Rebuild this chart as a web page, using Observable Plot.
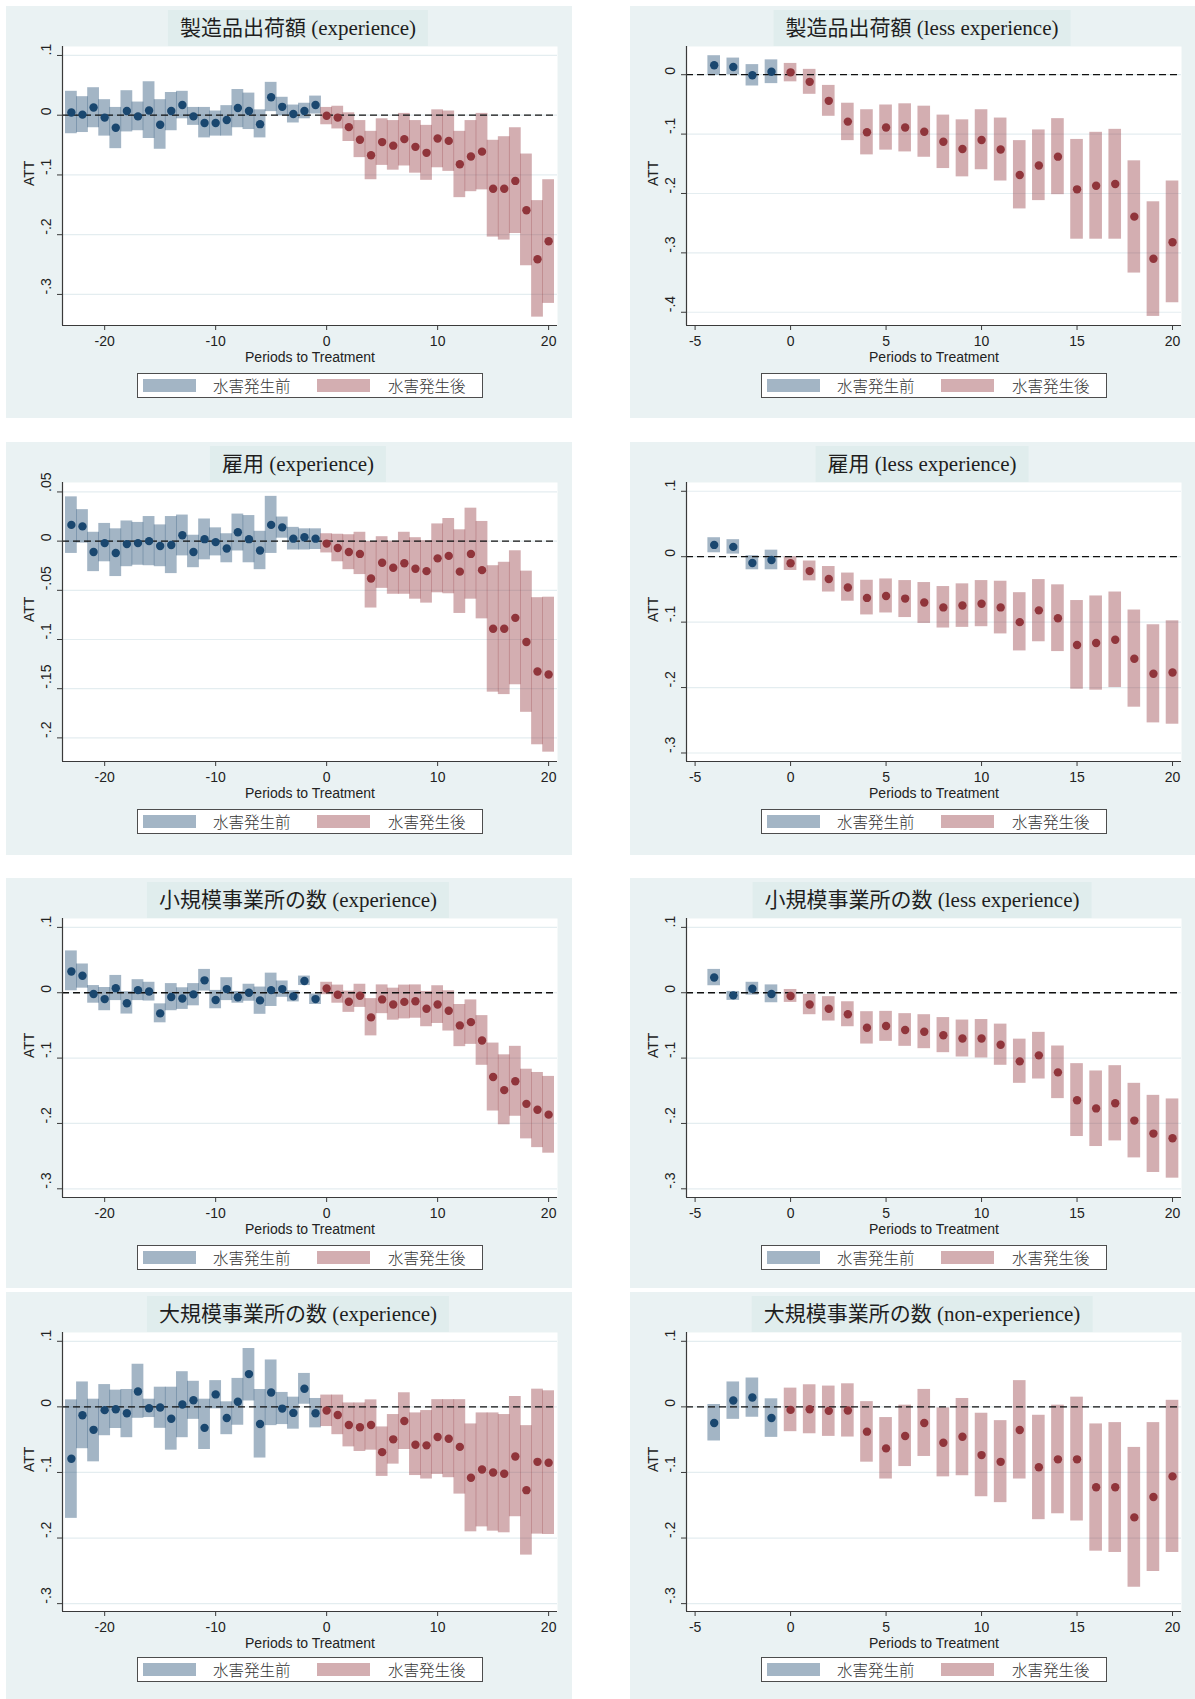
<!DOCTYPE html>
<html>
<head>
<meta charset="utf-8">
<script src="https://cdn.jsdelivr.net/npm/d3@7"></script>
<script src="https://cdn.jsdelivr.net/npm/@observablehq/plot@0.6"></script>
<style>
  html, body { margin: 0; padding: 0; background: #ffffff; }
  body { width: 1195px; height: 1699px; position: relative; overflow: hidden; }
  .panel { position: absolute; background: #eaf2f3; overflow: hidden; }
  .title {
    position: absolute; top: 4px; height: 36px; line-height: 36px; padding: 0 12px;
    background: #e0eded; white-space: nowrap; transform: translateX(-50%);
    font-family: "Liberation Serif", "Noto Sans CJK JP", serif; font-size: 21px; color: #1e1e1e;
  }
  .plotwrap { position: absolute; left: 0; top: 30px; }
  .legend {
    position: absolute; left: 131px; width: 346px; height: 25px; box-sizing: border-box;
    border: 1.5px solid #4d4d4d; background: #ffffff;
  }
  .sw { position: absolute; top: 5px; width: 53px; height: 13px; }
  .lt {
    position: absolute; top: 0; height: 22px; line-height: 22px; white-space: nowrap;
    font-family: "Noto Sans CJK JP", sans-serif; font-weight: 300; font-size: 15.5px; color: #333;
  }
</style>
</head>
<body>
<div id="root"></div>
<script>
// ---------------- data ----------------
const periodsLong = [-23,-22,-21,-20,-19,-18,-17,-16,-15,-14,-13,-12,-11,-10,-9,-8,-7,-6,-5,-4,-3,-2,-1,0,1,2,3,4,5,6,7,8,9,10,11,12,13,14,15,16,17,18,19,20];
const periodsShort = [-4,-3,-2,-1,0,1,2,3,4,5,6,7,8,9,10,11,12,13,14,15,16,17,18,19,20];

const legendLabels = ["水害発生前", "水害発生後"];
const xLabel = "Periods to Treatment";
const yLabel = "ATT";

const titles = [
  "製造品出荷額 (experience)",
  "製造品出荷額 (less experience)",
  "雇用 (experience)",
  "雇用 (less experience)",
  "小規模事業所の数 (experience)",
  "小規模事業所の数 (less experience)",
  "大規模事業所の数 (experience)",
  "大規模事業所の数 (non-experience)"
];

const xTicksLong = [-20, -10, 0, 10, 20];
const xTicksShort = [-5, 0, 5, 10, 15, 20];
const yTicksA = [0.1, 0, -0.1, -0.2, -0.3];
const yTickLabelsA = [".1", "0", "-.1", "-.2", "-.3"];
const yTicksB = [0, -0.1, -0.2, -0.3, -0.4];
const yTickLabelsB = ["0", "-.1", "-.2", "-.3", "-.4"];
const yTicksC = [0.05, 0, -0.05, -0.1, -0.15, -0.2];
const yTickLabelsC = [".05", "0", "-.05", "-.1", "-.15", "-.2"];

// 製造品出荷額 (experience)
const mfgExpEst = [.0045,.001,.013,-.004,-.021,.007,-.002,.008,-.016,.007,.017,-.002,-.013,-.013,-.008,.012,.007,-.015,.030,.014,.002,.007,.017,
  -.001,-.004,-.020,-.041,-.067,-.045,-.051,-.040,-.053,-.063,-.039,-.043,-.082,-.069,-.061,-.123,-.123,-.110,-.159,-.241,-.211];
const mfgExpHi = [.040,.031,.046,.026,.013,.041,.022,.056,.026,.038,.040,.013,.013,.007,.016,.043,.037,.009,.055,.030,.017,.020,.032,
  .013,.015,.004,-.009,-.027,-.006,-.009,.003,-.009,-.017,.009,.007,-.027,-.009,.003,-.042,-.036,-.021,-.065,-.143,-.108];
const mfgExpLo = [-.031,-.029,-.021,-.035,-.056,-.028,-.026,-.039,-.057,-.026,-.006,-.017,-.038,-.035,-.035,-.021,-.024,-.038,.006,-.001,-.013,-.006,.002,
  -.016,-.023,-.044,-.071,-.108,-.084,-.092,-.085,-.097,-.109,-.088,-.094,-.138,-.128,-.125,-.204,-.209,-.198,-.252,-.338,-.315];

// 製造品出荷額 (less experience)
const mfgLessEst = [.016,.013,-.001,.005, .004,-.012,-.044,-.079,-.097,-.089,-.089,-.096,-.113,-.125,-.110,-.126,-.169,-.153,-.138,-.193,-.187,-.184,-.239,-.310,-.282];
const mfgLessHi = [.032,.028,.017,.025, .019,.009,-.018,-.048,-.059,-.051,-.049,-.053,-.068,-.076,-.059,-.073,-.111,-.093,-.074,-.109,-.097,-.092,-.145,-.214,-.179];
const mfgLessLo = [-.001,.000,-.019,-.015, -.012,-.033,-.070,-.111,-.135,-.127,-.130,-.139,-.158,-.172,-.160,-.179,-.226,-.212,-.202,-.277,-.277,-.277,-.334,-.407,-.384];

// 雇用 (experience)
const empExpEst = [.0165,.015,-.011,-.002,-.012,-.003,-.002,.000,-.005,-.004,.006,-.011,.002,-.001,-.0075,.009,.002,-.0095,.0165,.014,.0025,.004,.0025,
  -.0025,-.007,-.011,-.013,-.038,-.022,-.027,-.0225,-.028,-.0305,-.0175,-.015,-.031,-.013,-.0295,-.089,-.089,-.078,-.1025,-.1325,-.1355];
const empExpHi = [.045,.032,.009,.018,.0125,.0205,.019,.025,.0165,.025,.0265,.006,.0225,.0135,.0075,.0275,.026,.010,.0455,.0245,.014,.0125,.0125,
  .0075,.007,.0065,.009,-.0003,.0045,.000,.009,.0035,.0005,.0175,.023,.0115,.0335,.020,-.025,-.0215,-.0098,-.0305,-.0575,-.057];
const empExpLo = [-.0125,-.002,-.031,-.021,-.036,-.026,-.0245,-.025,-.026,-.033,-.015,-.027,-.019,-.015,-.022,-.010,-.022,-.029,-.0125,.003,-.009,-.009,-.0085,
  -.012,-.021,-.029,-.034,-.068,-.048,-.054,-.054,-.059,-.063,-.0525,-.0535,-.0735,-.059,-.079,-.1535,-.156,-.146,-.174,-.207,-.2145];

// 雇用 (less experience)
const empLessEst = [.018,.015,-.0096,-.005, -.010,-.022,-.034,-.047,-.063,-.060,-.064,-.070,-.0775,-.0745,-.072,-.0775,-.100,-.082,-.094,-.135,-.132,-.127,-.156,-.179,-.177];
const empLessHi = [.029,.026,.0015,.010, .000,-.0066,-.015,-.025,-.036,-.034,-.0365,-.0395,-.0456,-.0415,-.0365,-.0375,-.055,-.035,-.043,-.067,-.060,-.054,-.0815,-.104,-.098];
const empLessLo = [.006,.004,-.020,-.020, -.021,-.037,-.054,-.068,-.089,-.086,-.093,-.102,-.109,-.108,-.107,-.118,-.144,-.130,-.145,-.2025,-.204,-.200,-.230,-.254,-.256];

// 小規模事業所の数 (experience)
const smallExpEst = [.0326,.026,-.002,-.0097,.007,-.016,.004,.002,-.0316,-.0066,-.0087,-.0025,.019,-.011,.0056,-.007,.000,-.0117,.004,.0056,-.0056,.018,-.0097,
  .0066,-.003,-.0138,-.0046,-.0377,-.0102,-.018,-.014,-.013,-.0245,-.018,-.0275,-.050,-.045,-.073,-.129,-.149,-.1355,-.170,-.179,-.1865];
const smallExpHi = [.064,.044,.011,.008,.0265,.0015,.020,.016,-.017,.014,.0076,.014,.0357,.0036,.023,.002,.013,.0087,.030,.018,.003,.0255,-.002,
  .016,.0117,.0025,.013,-.009,.012,.007,.0117,.012,.002,.0107,.003,-.018,-.011,-.035,-.077,-.095,-.082,-.117,-.122,-.128];
const smallExpLo = [.003,.007,-.016,-.0275,-.012,-.0326,-.012,-.0127,-.046,-.0275,-.0255,-.020,.0025,-.0245,-.012,-.016,-.013,-.033,-.021,-.007,-.014,.011,-.018,
  -.003,-.016,-.030,-.0224,-.066,-.032,-.042,-.040,-.039,-.052,-.047,-.0586,-.0825,-.079,-.111,-.181,-.202,-.189,-.2236,-.237,-.2455];

// 小規模事業所の数 (less experience)
const smallLessEst = [.0234,-.004,.006,-.002, -.005,-.018,-.0245,-.033,-.0535,-.051,-.057,-.0596,-.065,-.070,-.070,-.0795,-.105,-.0958,-.1218,-.1645,-.177,-.169,-.1956,-.2155,-.2226];
const smallLessHi = [.0357,.002,.016,.012, .005,-.0025,-.006,-.0138,-.029,-.0285,-.032,-.0336,-.038,-.0418,-.041,-.048,-.071,-.0606,-.0815,-.1085,-.1197,-.1116,-.1386,-.157,-.1625];
const smallLessLo = [.0107,-.0117,-.0036,-.0153, -.0148,-.0336,-.0433,-.052,-.0785,-.0744,-.082,-.0856,-.0917,-.0983,-.0998,-.111,-.1386,-.132,-.162,-.220,-.2353,-.2267,-.2527,-.275,-.2837];

// 大規模事業所の数 (experience)
const largeExpEst = [-.079,-.0128,-.035,-.005,-.0036,-.0097,.0235,-.002,-.001,-.018,.0036,.010,-.032,.019,-.0169,.0077,.050,-.026,.022,-.0026,-.0092,.0276,-.0097,
  -.0056,-.0123,-.0276,-.031,-.0276,-.069,-.0495,-.0215,-.0577,-.0587,-.046,-.0485,-.061,-.108,-.0955,-.100,-.102,-.0756,-.127,-.0838,-.0853];
const largeExpHi = [.0107,.038,.0117,.034,.0255,.0265,.065,.0117,.030,.030,.0536,.039,.0117,.040,.0077,.0434,.089,.0265,.0715,.022,.0148,.051,.0128,
  .018,.018,.006,.006,.0107,-.0306,-.0117,.0215,-.0092,-.0056,.011,.011,.011,-.026,-.0092,-.0092,-.0117,.0158,-.0286,.027,.0245];
const largeExpLo = [-.170,-.0638,-.0838,-.044,-.033,-.047,-.0174,-.0163,-.0327,-.066,-.047,-.019,-.065,-.003,-.0424,-.028,.009,-.078,-.0286,-.027,-.034,.004,-.032,
  -.030,-.0424,-.061,-.068,-.066,-.106,-.0873,-.065,-.1047,-.110,-.103,-.108,-.133,-.1905,-.183,-.1895,-.192,-.1675,-.226,-.194,-.1946];

// 大規模事業所の数 (non-experience)
const largeNonEst = [-.0245,.0097,.0143,-.0169, -.0046,-.0036,-.0061,-.0056,-.0378,-.0633,-.0444,-.0245,-.0546,-.0455,-.0735,-.0838,-.0352,-.092,-.080,-.080,-.1226,-.1226,-.1685,-.1374,-.106];
const largeNonHi = [.0036,.038,.044,.0123, .0286,.0337,.0317,.0352,.008,-.0163,.0026,.0266,-.0015,.0128,-.0097,-.021,.040,-.0128,.0026,.0148,-.026,-.024,-.0618,-.024,.010];
const largeNonLo = [-.052,-.019,-.0158,-.0465, -.0378,-.041,-.045,-.046,-.0843,-.110,-.091,-.0756,-.1067,-.105,-.137,-.146,-.110,-.172,-.163,-.174,-.220,-.222,-.275,-.251,-.222];

// ---------------- layout ----------------
const NAVY = "#1a476f";
const MAROON = "#90353b";
const PRE_FILL = "#a3b5c5";
const POST_FILL = "#d3aeb1";

const colLeft = [6, 630];
const rowTop = [6, 442, 878, 1292];
const rowH = [412, 413, 410, 407];
const panelW = 566;

const panels = [
  {title: titles[0], t: periodsLong,  est: mfgExpEst,  lo: mfgExpLo,  hi: mfgExpHi,  xdom: [-23.8, 20.8], ydom: [-0.352, 0.115], yt: yTicksA, yl: yTickLabelsA},
  {title: titles[1], t: periodsShort, est: mfgLessEst, lo: mfgLessLo, hi: mfgLessHi, xdom: [-5.45, 20.47], ydom: [-0.4223, 0.0475], yt: yTicksB, yl: yTickLabelsB},
  {title: titles[2], t: periodsLong,  est: empExpEst,  lo: empExpLo,  hi: empExpHi,  xdom: [-23.8, 20.8], ydom: [-0.224, 0.0596], yt: yTicksC, yl: yTickLabelsC},
  {title: titles[3], t: periodsShort, est: empLessEst, lo: empLessLo, hi: empLessHi, xdom: [-5.45, 20.47], ydom: [-0.313, 0.1134], yt: yTicksA, yl: yTickLabelsA},
  {title: titles[4], t: periodsLong,  est: smallExpEst, lo: smallExpLo, hi: smallExpHi, xdom: [-23.8, 20.8], ydom: [-0.3133, 0.1136], yt: yTicksA, yl: yTickLabelsA},
  {title: titles[5], t: periodsShort, est: smallLessEst, lo: smallLessLo, hi: smallLessHi, xdom: [-5.45, 20.47], ydom: [-0.3133, 0.1136], yt: yTicksA, yl: yTickLabelsA},
  {title: titles[6], t: periodsLong,  est: largeExpEst, lo: largeExpLo, hi: largeExpHi, xdom: [-23.8, 20.8], ydom: [-0.312, 0.1134], yt: yTicksA, yl: yTickLabelsA},
  {title: titles[7], t: periodsShort, est: largeNonEst, lo: largeNonLo, hi: largeNonHi, xdom: [-5.45, 20.47], ydom: [-0.312, 0.1134], yt: yTicksA, yl: yTickLabelsA}
];

const root = document.getElementById("root");

panels.forEach((p, i) => {
  const col = i % 2, row = Math.floor(i / 2);
  const long = col === 0;
  const div = document.createElement("div");
  div.className = "panel";
  div.style.left = colLeft[col] + "px";
  div.style.top = rowTop[row] + "px";
  div.style.width = panelW + "px";
  div.style.height = rowH[row] + "px";
  root.appendChild(div);

  const rows = p.t.map((t, k) => ({t, est: p.est[k], lo: p.lo[k], hi: p.hi[k]}));
  const pre = rows.filter(d => d.t < 0);
  const post = rows.filter(d => d.t >= 0);
  const bw = long ? 1.06 : 0.66;
  const xTicks = long ? xTicksLong : xTicksShort;

  const chart = Plot.plot({
    width: panelW,
    height: 335,
    marginLeft: 56,
    marginRight: 15,
    marginTop: 10,
    marginBottom: 46,
    x: {domain: p.xdom, axis: null},
    y: {domain: p.ydom, axis: null},
    style: {background: "transparent", fontFamily: "'Liberation Sans', Arial, sans-serif", fontSize: "14px", color: "#222"},
    marks: [
      Plot.frame({fill: "white", stroke: "none"}),
      Plot.gridY(p.yt, {stroke: "#e4edf0", strokeOpacity: 1, strokeWidth: 1.2}),
      Plot.rect(pre, {x1: d => d.t - bw / 2, x2: d => d.t + bw / 2, y1: "lo", y2: "hi", fill: NAVY, fillOpacity: 0.4}),
      Plot.rect(post, {x1: d => d.t - bw / 2, x2: d => d.t + bw / 2, y1: "lo", y2: "hi", fill: MAROON, fillOpacity: 0.4}),
      Plot.ruleY([0], {stroke: "#111", strokeWidth: 1.3, strokeDasharray: "7,4"}),
      Plot.dot(pre, {x: "t", y: "est", r: 4.2, fill: NAVY, stroke: "none"}),
      Plot.dot(post, {x: "t", y: "est", r: 4.2, fill: MAROON, stroke: "none"}),
      Plot.ruleX([p.xdom[0]], {stroke: "#3a3a3a", strokeWidth: 1.2}),
      Plot.ruleY([p.ydom[0]], {stroke: "#3a3a3a", strokeWidth: 1.2}),
      Plot.axisX({ticks: xTicks, tickSize: 5, tickPadding: 6, tickFormat: d => String(d), label: null, fontSize: 14, stroke: "#3a3a3a"}),
      Plot.axisY({ticks: p.yt, tickSize: 5, tickFormat: () => "", label: null, stroke: "#3a3a3a"}),
      Plot.text(p.yt, {y: d => d, text: (d, k) => p.yl[k], frameAnchor: "left", dx: -16, rotate: -90, fontSize: 14, fill: "#222"}),
      Plot.text([yLabel], {frameAnchor: "left", dx: -33, rotate: -90, fontSize: 14, fill: "#222"}),
      Plot.text([xLabel], {frameAnchor: "bottom", dy: 36, fontSize: 14, fill: "#222"})
    ]
  });
  const wrap = document.createElement("div");
  wrap.className = "plotwrap";
  wrap.appendChild(chart);
  div.appendChild(wrap);

  const title = document.createElement("div");
  title.className = "title";
  title.style.left = "292px";
  title.textContent = p.title;
  div.appendChild(title);

  const leg = document.createElement("div");
  leg.className = "legend";
  leg.style.top = (row === 3 ? 365 : 367) + "px";
  leg.innerHTML =
    `<div class="sw" style="left:5px;background:${PRE_FILL}"></div>` +
    `<div class="lt" style="left:75px">${legendLabels[0]}</div>` +
    `<div class="sw" style="left:179px;background:${POST_FILL}"></div>` +
    `<div class="lt" style="left:250px">${legendLabels[1]}</div>`;
  div.appendChild(leg);
});
</script>
</body>
</html>
